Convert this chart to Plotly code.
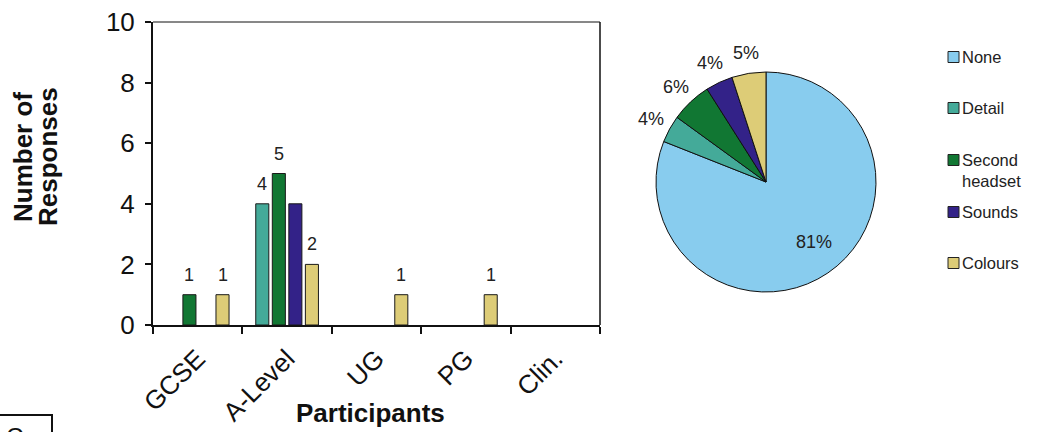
import math
import plotly.graph_objects as go

# ---- data -------------------------------------------------------------
categories = ["GCSE", "A-Level", "UG", "PG", "Clin."]

bar_series = ["Detail", "Second headset", "Sounds", "Colours"]
detail = [0, 4, 0, 0, 0]
second_headset = [1, 5, 0, 0, 0]
sounds = [0, 4, 0, 0, 0]
colours = [1, 2, 1, 1, 0]
bar_values = [detail, second_headset, sounds, colours]

# bars whose value label is left off
unlabelled = {("Sounds", "A-Level")}

pie_labels = ["None", "Detail", "Second headset", "Sounds", "Colours"]
pie_values = [81, 4, 6, 4, 5]
pie_label_inside = [True, False, False, False, False]

legend_text = ["None", "Detail", "Second<br>headset", "Sounds", "Colours"]

palette = {
    "None": "#88CCEE",
    "Detail": "#44AA99",
    "Second headset": "#117733",
    "Sounds": "#332288",
    "Colours": "#DDCC77",
}

# ---- page geometry (pixels) --------------------------------------------
W, H = 1039, 432
FONT = "Arial, 'Liberation Sans', sans-serif"
TEXT = "#222222"
INK = "#111111"


def px(x):
    return x / W


def py(y):
    return 1 - y / H


BARGAP = 0.26
BARGROUPGAP = 0.21
slot = (1 - BARGAP) / len(bar_series)

# pie placement
PIE_CX, PIE_CY, PIE_R = 766, 182, 110

fig = go.Figure()

for name, vals in zip(bar_series, bar_values):
    fig.add_trace(go.Bar(
        x=categories, y=[v if v else None for v in vals], name=name,
        marker=dict(color=palette[name], line=dict(color="#1a1a1a", width=1)),
        showlegend=False, xaxis="x", yaxis="y",
    ))

fig.add_trace(go.Pie(
    labels=pie_labels, values=pie_values, sort=False,
    direction="clockwise", rotation=0,
    marker=dict(colors=[palette[n] for n in pie_labels],
                line=dict(color=INK, width=1)),
    textinfo="none",
    domain=dict(x=[px(PIE_CX - PIE_R), px(PIE_CX + PIE_R)],
                y=[py(PIE_CY + PIE_R), py(PIE_CY - PIE_R)]),
    showlegend=False, hoverinfo="label+percent",
))

annotations = []

# percentage labels on the pie, placed along each slice's middle angle
total = sum(pie_values)
cum = 0.0
for v, inside in zip(pie_values, pie_label_inside):
    mid = (cum + v / 2) / total * 2 * math.pi
    cum += v
    dist = PIE_R * 0.70 if inside else PIE_R + 21
    lx = PIE_CX + dist * math.sin(mid) + (5 if inside else 0)
    ly = PIE_CY - dist * math.cos(mid) - (4 if inside else 0)
    annotations.append(dict(
        x=px(lx), y=py(ly), xref="paper", yref="paper",
        text=f"{round(v / total * 100)}%", showarrow=False,
        xanchor="center", yanchor="middle",
        font=dict(family=FONT, size=18, color=TEXT),
    ))

# value labels above bars
for i, (name, vals) in enumerate(zip(bar_series, bar_values)):
    for j, (cat, v) in enumerate(zip(categories, vals)):
        if v > 0 and (name, cat) not in unlabelled:
            annotations.append(dict(
                x=j + (i - (len(bar_series) - 1) / 2) * slot, y=v,
                xref="x", yref="y", text=str(v), showarrow=False,
                yanchor="bottom", yshift=8,
                font=dict(family=FONT, size=18, color=TEXT),
            ))

# axis titles
annotations.append(dict(
    x=px(23), y=py(157), xref="paper", yref="paper", text="<b>Number of</b>",
    textangle=-90, showarrow=False, xanchor="center", yanchor="middle",
    font=dict(family=FONT, size=26, color=INK),
))
annotations.append(dict(
    x=px(48), y=py(157), xref="paper", yref="paper", text="<b>Responses</b>",
    textangle=-90, showarrow=False, xanchor="center", yanchor="middle",
    font=dict(family=FONT, size=26, color=INK),
))
annotations.append(dict(
    x=px(370), y=py(413), xref="paper", yref="paper", text="<b>Participants</b>",
    showarrow=False, xanchor="center", yanchor="middle",
    font=dict(family=FONT, size=26, color=INK),
))

shapes = [
    # top and right edges of the bar plot frame
    dict(type="line", xref="x domain", yref="y domain", x0=0, x1=1, y0=1, y1=1,
         line=dict(color=INK, width=1)),
    dict(type="line", xref="x domain", yref="y domain", x0=1, x1=1, y0=0, y1=1,
         line=dict(color=INK, width=1.5)),
    # panel label box in the lower-left corner
    dict(type="rect", xref="paper", yref="paper",
         x0=px(-5), x1=px(52), y0=py(445), y1=py(415),
         line=dict(color=INK, width=2), fillcolor="white"),
]

# legend for the pie
legend_y = [57, 108, 160, 212, 263]
for name, label, yc in zip(pie_labels, legend_text, legend_y):
    shapes.append(dict(
        type="rect", xref="paper", yref="paper",
        x0=px(948), x1=px(959), y0=py(yc + 5.5), y1=py(yc - 5.5),
        fillcolor=palette[name], line=dict(color="#222222", width=1),
    ))
    two_line = "<br>" in label
    annotations.append(dict(
        x=px(960), y=py(yc), xref="paper", yref="paper", text=label,
        showarrow=False, xanchor="left", yanchor="top" if two_line else "middle",
        yshift=11 if two_line else 0, align="left",
        font=dict(family=FONT, size=16.5, color=TEXT),
    ))

annotations.append(dict(
    x=px(14), y=py(421), xref="paper", yref="paper", text="C",
    showarrow=False, xanchor="center", yanchor="top",
    font=dict(family=FONT, size=24, color=INK),
))

fig.update_layout(
    width=W, height=H,
    margin=dict(l=0, r=0, t=0, b=0, autoexpand=False),
    paper_bgcolor="white", plot_bgcolor="white",
    barmode="group", bargap=BARGAP, bargroupgap=BARGROUPGAP,
    font=dict(family=FONT, color=INK),
    xaxis=dict(
        domain=[px(153), px(600)], type="category", range=[-0.5, 4.5],
        tickson="boundaries", ticks="outside", ticklen=7, tickwidth=2,
        tickcolor=INK, showline=True, linewidth=2, linecolor=INK,
        tickangle=-45, tickfont=dict(family=FONT, size=26, color=INK),
        ticklabelstandoff=6,
        showgrid=False, zeroline=False, fixedrange=True, automargin=False,
    ),
    yaxis=dict(
        domain=[py(325), py(22)], range=[0, 10], dtick=2,
        ticks="outside", ticklen=6, tickwidth=2, tickcolor=INK,
        showline=True, linewidth=2, linecolor=INK,
        tickfont=dict(family=FONT, size=26, color=INK),
        ticklabelstandoff=5,
        showgrid=False, zeroline=False, fixedrange=True, automargin=False,
    ),
    annotations=annotations,
    shapes=shapes,
)

fig.write_html("out.html")
